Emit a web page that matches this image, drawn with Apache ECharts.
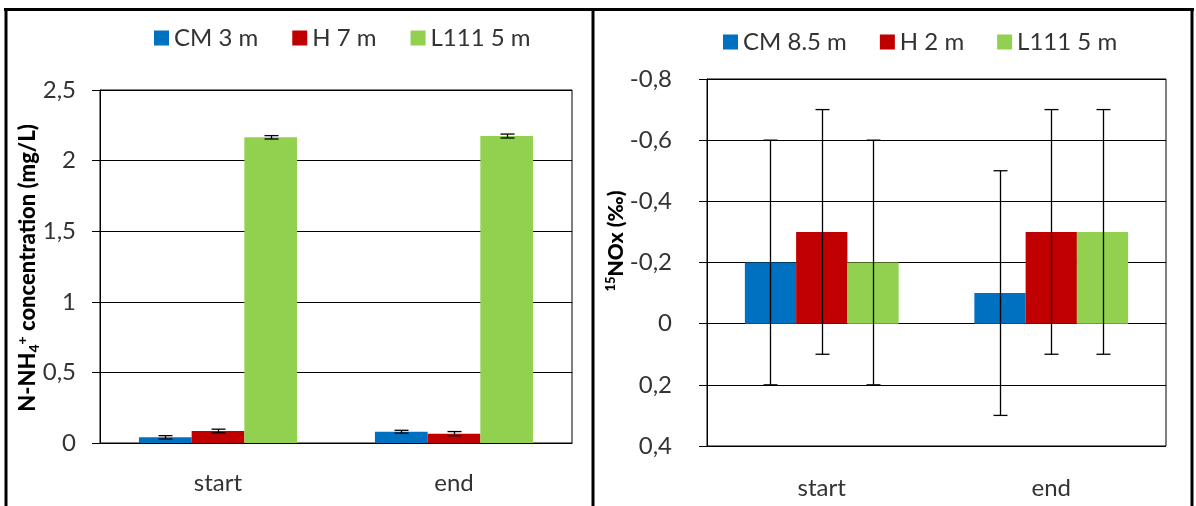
<!DOCTYPE html>
<html><head><meta charset="utf-8">
<script src="https://cdn.jsdelivr.net/npm/echarts@6/dist/echarts.min.js"></script>
<style>html,body{margin:0;padding:0;background:#fff}#c{width:1196px;height:506px}</style>
</head><body><div id="c"></div>
<script>
// ---- data ----
var categories = ['start', 'end'];
var leftNames = ['CM 3 m', 'H 7 m', 'L111 5 m'];
var leftCM = [0.04, 0.08];
var leftH = [0.085, 0.066];
var leftL = [2.165, 2.174];
var leftCMerr = [0.012, 0.01];
var leftHerr = [0.013, 0.015];
var leftLerr = [0.012, 0.014];
var leftAxis = [0, 2.5, 0.5]; // min, max, interval

var rightNames = ['CM 8.5 m', 'H 2 m', 'L111 5 m'];
var rightCM = [-0.2, -0.1];
var rightH = [-0.3, -0.3];
var rightL = [-0.2, -0.3];
var rightCMerr = [0.4, 0.4];
var rightHerr = [0.4, 0.4];
var rightLerr = [0.4, 0.4];
var rightAxis = [-0.8, 0.4, 0.2];

var colors = ['#0070C0', '#C00000', '#92D050'];
var FONT = 'Lato';
var TXT = '#333333';
var GAP = 0.33;

function errData(vals, errs) {
  return vals.map(function (v, i) { return [i, v - errs[i], v + errs[i]]; });
}
function makeErr(k) {
  return function (params, api) {
    var c = api.value(0), lo = api.value(1), hi = api.value(2);
    var band = api.size([1, 0])[0];
    var bw = band * (1 - GAP) / 3;
    var x = Math.round(api.coord([c, 0])[0] + (k - 1) * bw) + 0.5;
    var y1 = api.coord([c, lo])[1], y2 = api.coord([c, hi])[1];
    var st = { stroke: '#000', lineWidth: 1.3 };
    return { type: 'group', children: [
      { type: 'line', shape: { x1: x, y1: y1, x2: x, y2: y2 }, style: st },
      { type: 'line', shape: { x1: x - 7, y1: y1, x2: x + 7, y2: y1 }, style: st },
      { type: 'line', shape: { x1: x - 7, y1: y2, x2: x + 7, y2: y2 }, style: st }
    ]};
  };
}
function fmt(v) { return String(+(+v).toFixed(2)).replace('.', ','); }

var series = [];
[[leftCM, leftCMerr], [leftH, leftHerr], [leftL, leftLerr]].forEach(function (p, k) {
  series.push({ name: leftNames[k], type: 'bar', xAxisIndex: 0, yAxisIndex: 0, data: p[0],
    barGap: '0%', barCategoryGap: (GAP * 100) + '%', itemStyle: { color: colors[k] } });
});
[[leftCM, leftCMerr], [leftH, leftHerr], [leftL, leftLerr]].forEach(function (p, k) {
  series.push({ name: 'errL' + k, type: 'custom', xAxisIndex: 0, yAxisIndex: 0, z: 5,
    renderItem: makeErr(k), encode: { x: 0, y: [1, 2] }, data: errData(p[0], p[1]) });
});
[[rightCM, rightCMerr], [rightH, rightHerr], [rightL, rightLerr]].forEach(function (p, k) {
  series.push({ name: rightNames[k], type: 'bar', xAxisIndex: 1, yAxisIndex: 1, data: p[0],
    barGap: '0%', barCategoryGap: (GAP * 100) + '%', itemStyle: { color: colors[k] } });
});
[[rightCM, rightCMerr], [rightH, rightHerr], [rightL, rightLerr]].forEach(function (p, k) {
  series.push({ name: 'errR' + k, type: 'custom', xAxisIndex: 1, yAxisIndex: 1, z: 5,
    renderItem: makeErr(k), encode: { x: 0, y: [1, 2] }, data: errData(p[0], p[1]) });
});

var lineBlack = { lineStyle: { color: '#000', width: 1 } };
var option = {
  animation: false,
  backgroundColor: '#fff',
  textStyle: { fontFamily: FONT },
  grid: [
    { left: 100, top: 90, width: 472, height: 353, show: true, borderColor: '#000', borderWidth: 1 },
    { left: 707, top: 79, width: 459, height: 367, show: true, borderColor: '#000', borderWidth: 1 }
  ],
  legend: [
    { data: leftNames, left: 149, top: 21, icon: 'rect', itemWidth: 15, itemHeight: 15, itemGap: 34,
      textStyle: { fontFamily: FONT, fontSize: 24, color: TXT, lineHeight: 24 } },
    { data: rightNames, left: 718, top: 25, icon: 'rect', itemWidth: 15, itemHeight: 15, itemGap: 33,
      textStyle: { fontFamily: FONT, fontSize: 24, color: TXT, lineHeight: 24 } }
  ],
  xAxis: [
    { type: 'category', gridIndex: 0, data: categories,
      axisLine: lineBlack, axisTick: { length: 9, lineStyle: { color: '#000' } },
      axisLabel: { fontFamily: FONT, fontSize: 24, color: TXT, margin: 28 } },
    { type: 'category', gridIndex: 1, data: categories, position: 'bottom',
      axisLine: { show: false, onZero: false }, axisTick: { show: false },
      axisLabel: { fontFamily: FONT, fontSize: 24, color: TXT, margin: 30 } },
    { type: 'category', gridIndex: 1, data: categories,
      axisLine: { show: true, onZero: true, lineStyle: { color: '#000' } },
      axisTick: { length: 7, lineStyle: { color: '#000' } }, axisLabel: { show: false } }
  ],
  yAxis: [
    { type: 'value', gridIndex: 0, min: leftAxis[0], max: leftAxis[1], interval: leftAxis[2],
      axisLine: { show: true, lineStyle: { color: '#000' } },
      axisTick: { show: true, length: 8, lineStyle: { color: '#000' } },
      splitLine: lineBlack,
      axisLabel: { fontFamily: FONT, fontSize: 24, color: TXT, margin: 24, formatter: fmt } },
    { type: 'value', gridIndex: 1, inverse: true, min: rightAxis[0], max: rightAxis[1], interval: rightAxis[2],
      axisLine: { show: true, onZero: false, lineStyle: { color: '#000' } },
      axisTick: { show: true, length: 8, lineStyle: { color: '#000' } },
      splitLine: lineBlack,
      axisLabel: { fontFamily: FONT, fontSize: 24, color: TXT, margin: 35, formatter: fmt } }
  ],
  graphic: [
    { type: 'line', shape: { x1: 4, y1: 9.5, x2: 1194, y2: 9.5 }, style: { stroke: '#000', lineWidth: 3 } },
    { type: 'line', shape: { x1: 6, y1: 8, x2: 6, y2: 506 }, style: { stroke: '#000', lineWidth: 3 } },
    { type: 'line', shape: { x1: 593, y1: 8, x2: 593, y2: 506 }, style: { stroke: '#000', lineWidth: 3 } },
    { type: 'line', shape: { x1: 1192, y1: 8, x2: 1192, y2: 506 }, style: { stroke: '#000', lineWidth: 3 } },
    { type: 'text', x: 28, y: 268, rotation: Math.PI / 2,
      style: { text: '{b|N-NH}{s|4}{p|+}{b| concentration (mg/L)}', align: 'center', verticalAlign: 'middle',
        rich: {
          b: { fontFamily: FONT, fontWeight: 900, fontSize: 22, fill: '#000', lineHeight: 30, verticalAlign: 'middle' },
          s: { fontFamily: FONT, fontWeight: 900, fontSize: 14, fill: '#000', lineHeight: 30, verticalAlign: 'bottom', padding: [0, 0, 2, 0] },
          p: { fontFamily: FONT, fontWeight: 900, fontSize: 14, fill: '#000', lineHeight: 30, verticalAlign: 'top', padding: [2, 0, 0, 0] }
        } } },
    { type: 'text', x: 616, y: 241, rotation: Math.PI / 2,
      style: { text: '{p|15}{b|NOx (‰)}', align: 'center', verticalAlign: 'middle',
        rich: {
          b: { fontFamily: FONT, fontWeight: 900, fontSize: 21, fill: '#000', lineHeight: 28, verticalAlign: 'middle' },
          p: { fontFamily: FONT, fontWeight: 900, fontSize: 13, fill: '#000', lineHeight: 28, verticalAlign: 'top', padding: [2, 0, 0, 0] }
        } } }
  ],
  series: series
};
var chart = echarts.init(document.getElementById('c'), null, { renderer: 'canvas' });
chart.setOption(option);
</script></body></html>
